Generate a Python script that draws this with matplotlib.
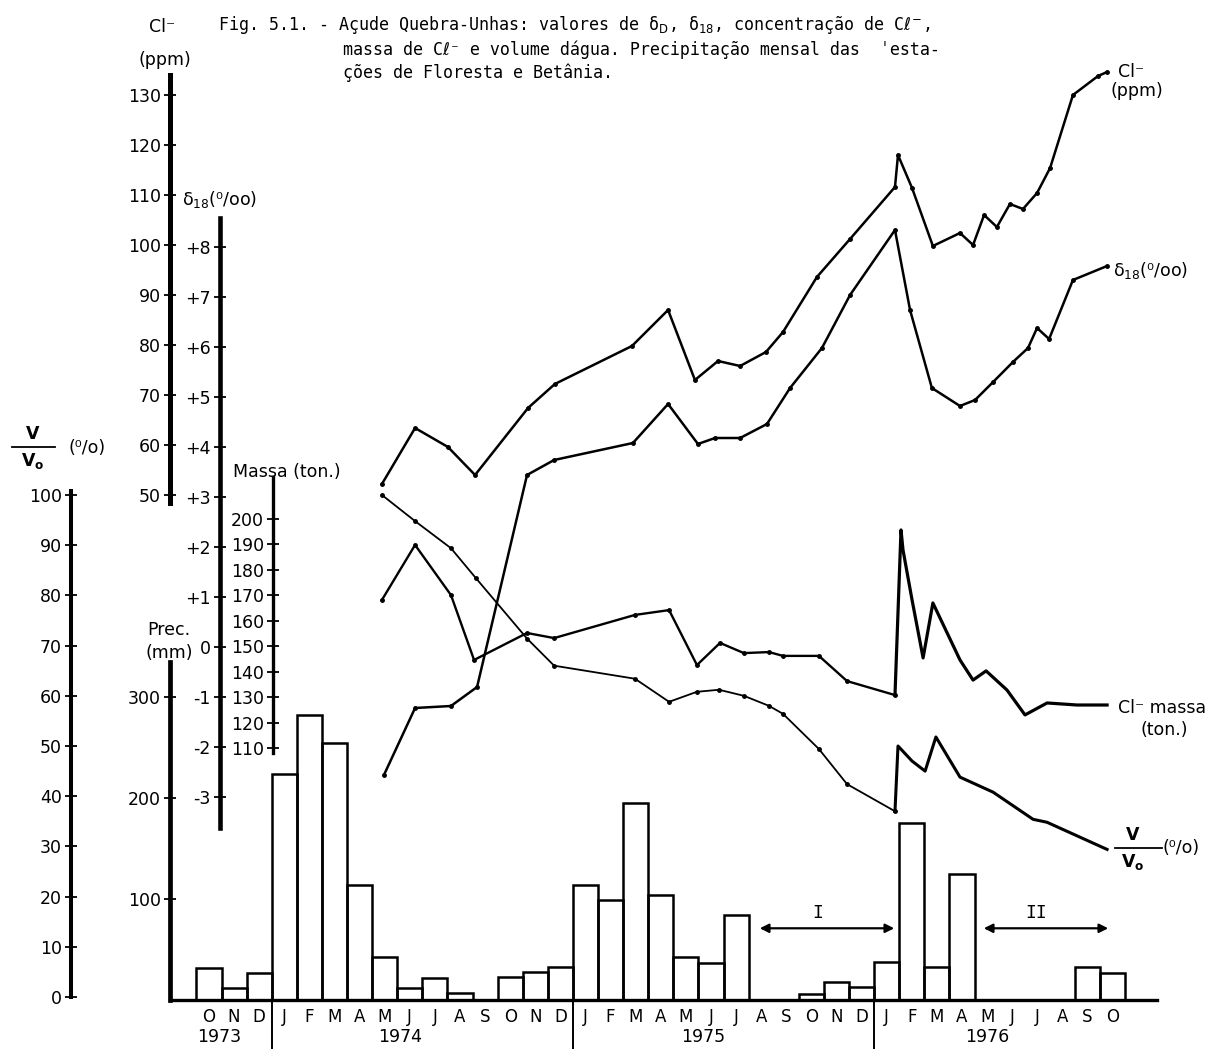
import matplotlib
matplotlib.use('Agg')
import matplotlib.pyplot as plt
import matplotlib.transforms as mtransforms
from matplotlib.lines import Line2D

W, H, DPI = 1215, 1049, 100

# month index on the x axis: 0 = Oct 1973, 1 = Nov 1973, ...
month_labels = ['O', 'N', 'D'] + list('JFMAMJJASOND') * 2 + list('JFMAMJJASO')
years = ['1973', '1974', '1975', '1976']
year_x = [0.4, 7.6, 19.7, 31.0]
year_breaks = [2.5, 14.5, 26.5]

# monthly precipitation (mm), one value per month from Oct 1973
prec_mm = [32, 12, 27, 224, 282, 254, 114, 43, 12, 22, 7, 0, 23, 28, 33,
           114, 99, 195, 104, 43, 37, 84, 0, 0, 6, 18, 13,
           38, 175, 33, 125, 0, 0, 0, 0, 33, 27]

# Cl- concentration (ppm)
cl_x = [6.89, 8.21, 9.52, 10.60, 12.71, 13.78, 16.85, 18.29, 19.36, 20.28,
        21.16, 22.19, 22.87, 24.22, 25.54, 27.33, 27.45, 28.01, 28.84, 29.92,
        30.44, 30.88, 31.39, 31.91, 32.43, 32.99, 33.51, 34.42, 35.42, 35.78]
cl_ppm = [52.2, 63.4, 59.6, 54.0, 67.4, 72.2, 79.8, 87.0, 73.0, 76.8,
          75.8, 78.6, 82.6, 93.6, 101.2, 111.6, 118.0, 111.4, 99.8, 102.4,
          100.0, 106.0, 103.6, 108.2, 107.2, 110.4, 115.4, 130.0, 133.8, 134.6]

# delta 18 (o/oo)
d18_x = [6.97, 8.21, 9.64, 10.68, 12.67, 13.75, 16.89, 18.29, 19.48, 20.16,
         21.16, 22.23, 23.15, 24.42, 25.54, 27.33, 27.93, 28.80, 29.92, 30.52,
         31.24, 32.03, 32.63, 32.99, 33.47, 34.42, 35.78]
d18 = [-2.56, -1.22, -1.18, -0.80, 3.44, 3.74, 4.08, 4.86, 4.06, 4.18,
       4.18, 4.46, 5.18, 5.98, 7.04, 8.34, 6.74, 5.18, 4.82, 4.94,
       5.30, 5.70, 5.98, 6.38, 6.16, 7.34, 7.62]

# Cl- mass (ton.); points after index 15 are the smoothed 1976 curve
massa_x = [6.89, 8.21, 9.64, 10.56, 12.67, 13.75, 16.97, 18.33, 19.44, 20.36,
           21.31, 22.31, 22.87, 24.30, 25.42, 27.33, 27.57, 27.65, 28.01, 28.45,
           28.84, 29.92, 30.44, 30.96, 31.79, 32.51, 33.39, 34.58, 35.78]
massa = [168.2, 189.8, 170.1, 144.6, 155.2, 153.2, 162.3, 164.2, 142.6, 151.3,
         147.3, 147.7, 146.2, 146.2, 136.3, 130.8, 195.7, 187.8, 168.2, 145.4,
         167.0, 144.6, 136.7, 140.3, 132.8, 123.0, 127.7, 126.9, 126.9]

# water volume V/Vo (%)
vv0_x = [6.89, 8.21, 9.64, 10.64, 12.67, 13.75, 16.97, 18.33, 19.44, 20.32,
         21.31, 22.31, 22.87, 24.30, 25.42, 27.33, 27.45, 28.01, 28.53, 28.96,
         29.92, 31.24, 32.83, 33.39, 35.78]
vv0 = [100.0, 94.8, 89.4, 83.4, 71.4, 66.0, 63.4, 58.8, 60.8, 61.2,
       60.0, 58.0, 56.4, 49.4, 42.4, 37.0, 50.0, 47.0, 45.0, 51.8,
       43.8, 40.8, 35.4, 34.8, 29.4]
split = 16  # start of the hand smoothed 1976 part

X0, DX = 209, 25.1  # pixel of Oct 1973 and pixels per month

LABEL = dict(family='DejaVu Sans', fontsize=12.5, color='black')
MONO = ['DejaVu Sans Mono', 'DejaVu Sans']


def fx(px):
    return px / W


def fy(py):
    return 1 - py / H


def mx(px):
    return (px - X0) / DX


fig = plt.figure(figsize=(W / DPI, H / DPI), dpi=DPI)


def make_axes(py_a, val_a, py_b, val_b, base=None):
    ax = fig.add_axes([0, 0, 1, 1], sharex=base)
    k = (py_a - py_b) / (val_b - val_a)
    ax.set_ylim(val_a - (H - py_a) / k, val_a + py_a / k)
    ax.patch.set_visible(False)
    for side in ['top', 'right', 'bottom']:
        ax.spines[side].set_visible(False)
    return ax


def style_left(ax, spine_px, lo, hi, ticks, labels, lw):
    sp = ax.spines['left']
    sp.set_position(('axes', spine_px / W))
    sp.set_bounds(lo, hi)
    sp.set_linewidth(lw)
    ax.set_yticks(ticks)
    ax.set_yticklabels(labels)
    ax.tick_params(axis='y', direction='inout', length=9, width=1.3,
                   pad=2, labelsize=12.5)


# precipitation axes is the base one: it carries the month axis
ax_p = make_axes(1000, 0, 697, 300)
ax_p.set_xlim(mx(0), mx(W))
style_left(ax_p, 170, 0, 335, [100, 200, 300], ['100', '200', '300'], 3.4)
ax_p.spines['bottom'].set_visible(True)
ax_p.spines['bottom'].set_position(('data', 0))
ax_p.spines['bottom'].set_bounds(mx(170), mx(1157))
ax_p.spines['bottom'].set_linewidth(2.4)
ax_p.set_xticks(range(len(month_labels)))
ax_p.set_xticklabels(month_labels)
ax_p.tick_params(axis='x', length=0, pad=6, labelsize=12)

months = [i for i, v in enumerate(prec_mm) if v > 0]
ax_p.bar(months, [prec_mm[i] for i in months], width=1.0, fill=False,
         edgecolor='black', linewidth=1.8)

blend = mtransforms.blended_transform_factory(ax_p.transData, fig.transFigure)
for x, yr in zip(year_x, years):
    ax_p.text(x, fy(1037), yr, transform=blend, ha='center', va='center',
              fontsize=12.5)
for x in year_breaks:
    ax_p.axvline(x, 0, fy(1000), color='black', lw=1.4)

# periods I and II
ax_p.annotate('', xy=(mx(897), 71), xytext=(mx(757), 71),
              arrowprops=dict(arrowstyle='<|-|>', lw=1.6, color='black',
                              mutation_scale=13))
ax_p.annotate('', xy=(mx(1111), 71), xytext=(mx(981), 71),
              arrowprops=dict(arrowstyle='<|-|>', lw=1.6, color='black',
                              mutation_scale=13))
ax_p.text(mx(818), 86, 'I', ha='center', va='center', fontsize=13,
          family=MONO)
ax_p.text(mx(1036), 86, 'II', ha='center', va='center', fontsize=13,
          family=MONO)

# other scales
ax_cl = make_axes(495, 50, 95, 130, ax_p)
style_left(ax_cl, 170, 48.4, 134, list(range(50, 131, 10)),
           [str(v) for v in range(50, 131, 10)], 3.6)
ax_d = make_axes(647, 0, 247, 8, ax_p)
style_left(ax_d, 220, -3.62, 8.58, list(range(-3, 9)),
           ['-3', '-2', '-1', '0'] + ['+%d' % v for v in range(1, 9)], 3.3)
ax_m = make_axes(748, 110, 519, 200, ax_p)
style_left(ax_m, 273, 108, 216.5, list(range(110, 201, 10)),
           [str(v) for v in range(110, 201, 10)], 2.4)
ax_v = make_axes(997, 0, 495, 100, ax_p)
style_left(ax_v, 71, 0, 100.8, list(range(0, 101, 10)),
           [str(v) for v in range(0, 101, 10)], 2.9)
for ax in [ax_cl, ax_d, ax_m, ax_v]:
    ax.tick_params(axis='x', bottom=False, labelbottom=False)

ax_cl.plot(cl_x, cl_ppm, color='black', lw=1.8, marker='o', ms=2.5)
ax_d.plot(d18_x, d18, color='black', lw=1.8, marker='o', ms=2.5)
ax_m.plot(massa_x[:split], massa[:split], color='black', lw=1.7,
          marker='o', ms=2.5)
ax_m.plot(massa_x[split - 1:], massa[split - 1:], color='black', lw=2.3)
ax_v.plot(vv0_x[:split], vv0[:split], color='black', lw=1.3,
          marker='o', ms=2.5)
ax_v.plot(vv0_x[split - 1:], vv0[split - 1:], color='black', lw=2.2)

# title
fig.text(fx(218), fy(25), 'Fig. 5.1. - Açude Quebra-Unhas: valores de '
         r'δ$_\mathrm{D}$, δ$_\mathrm{18}$, concentração de C$\ell^{-}$,',
         family=MONO, fontsize=12, va='center', ha='left')
fig.text(fx(343), fy(50), 'massa de Cℓ⁻ e volume dágua. '
         'Precipitação mensal das  ˈesta-',
         family=MONO, fontsize=12, va='center', ha='left')
fig.text(fx(343), fy(73), 'ções de Floresta e Betânia.',
         family=MONO, fontsize=12, va='center', ha='left')

# left axis titles
fig.text(fx(162), fy(27), 'Cl⁻', ha='center', va='center', **LABEL)
fig.text(fx(165), fy(60), '(ppm)', ha='center', va='center', **LABEL)
fig.text(fx(182), fy(200), r'δ$_\mathrm{18}$(⁰/oo)', ha='left',
         va='center', **LABEL)
fig.text(fx(233), fy(472), 'Massa (ton.)', ha='left', va='center', **LABEL)
fig.text(fx(169), fy(630), 'Prec.', ha='center', va='center', **LABEL)
fig.text(fx(169), fy(653), '(mm)', ha='center', va='center', **LABEL)


def fraction(cx, cy, x0, x1):
    fig.text(fx(cx), fy(cy - 13), 'V', ha='center', va='center',
             weight='bold', **LABEL)
    fig.text(fx(cx), fy(cy + 14), r'V$_{\mathbf{o}}$', ha='center',
             va='center', weight='bold', **LABEL)
    fig.add_artist(Line2D([fx(x0), fx(x1)], [fy(cy), fy(cy)],
                          color='black', lw=1.3,
                          transform=fig.transFigure))


fraction(33, 447, 12, 55)
fig.text(fx(68), fy(448), '(⁰/o)', ha='left', va='center', **LABEL)

# right end labels
fig.text(fx(1118), fy(72), 'Cl⁻', ha='left', va='center', **LABEL)
fig.text(fx(1110), fy(91), '(ppm)', ha='left', va='center', **LABEL)
fig.text(fx(1113), fy(270), r'δ$_\mathrm{18}$(⁰/oo)', ha='left',
         va='center', **LABEL)
fig.text(fx(1118), fy(708), 'Cl⁻ massa', ha='left', va='center', **LABEL)
fig.text(fx(1140), fy(730), '(ton.)', ha='left', va='center', **LABEL)
fraction(1133, 848, 1115, 1162)
fig.text(fx(1162), fy(848), '(⁰/o)', ha='left', va='center', **LABEL)

fig.savefig('out.png', dpi=DPI)
